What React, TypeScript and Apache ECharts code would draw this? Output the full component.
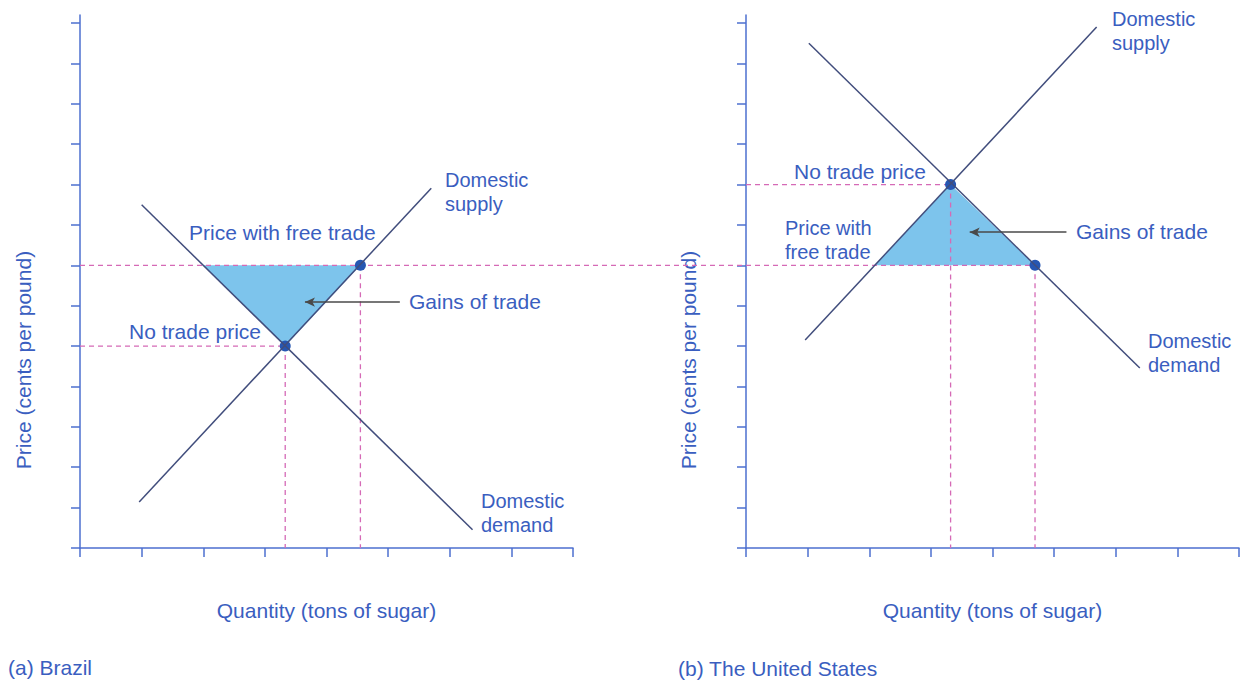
import React, { useEffect, useRef } from "react";
import * as echarts from "echarts";

// ---- data (axis units) ----
const xTicks = [0, 1, 2, 3, 4, 5, 6, 7, 8];
const yTicks = [0, 1, 2, 3, 4, 5, 6, 7, 8, 9, 10, 11, 12, 13];
const freeTradePrice = 7;

// (a) Brazil
const brazilDemand = [[1.0, 8.5], [6.37, 0.45]];
const brazilSupply = [[0.96, 1.14], [5.7, 8.91]];
const brazilNoTrade = [3.33, 5];
const brazilFreeDemand = [2.0, freeTradePrice];
const brazilFreeSupply = [4.55, freeTradePrice];
const brazilArrow = [[5.19, 6.09], [3.65, 6.09]];
const worldPriceLineEnd = 10.8; // where the free-trade price line reaches panel (b)

// (b) The United States
const usDemand = [[1.02, 12.5], [6.39, 4.46]];
const usSupply = [[0.96, 5.15], [5.69, 12.9]];
const usNoTrade = [3.32, 9];
const usFreeSupply = [2.09, freeTradePrice];
const usFreeDemand = [4.69, freeTradePrice];
const usArrow = [[5.2, 7.82], [3.63, 7.82]];

// ---- styles ----
const AXIS = "#4d6fcf";
const TEXT = "#3a5ec0";
const CURVE = "#414d7c";
const DASH = "#d56ab6";
const FILL = "#7dc4ec";
const DOT = "#2656b2";
const ARROW = "#4a4a4a";
const FONT = "'Liberation Sans', Arial, Helvetica, sans-serif";

function txt(text: string, x: number, y: number, align = "left", extra: any = {}) {
  const multi = text.indexOf("\n") >= 0;
  return {
    type: "text",
    x,
    y,
    silent: true,
    ...extra,
    style: {
      text,
      fill: TEXT,
      font: `${multi ? 20 : 21}px ${FONT}`,
      lineHeight: 23.5,
      align,
      verticalAlign: "middle",
    },
  };
}

function panelSeries(idx: number, demand: number[][], supply: number[][], noTrade: number[],
  freeB: number[], tri: number[][], arrow: number[][], hEnd: number) {
  const ax = { xAxisIndex: idx, yAxisIndex: idx };
  const dashed = (data: number[][]) => ({
    type: "custom", ...ax, silent: true, clip: false,
    data: [0],
    renderItem: (_p: any, api: any) => {
      const a = api.coord(data[0]);
      const b = api.coord(data[1]);
      return {
        type: "line",
        shape: { x1: a[0], y1: a[1], x2: b[0], y2: b[1] },
        style: { stroke: DASH, lineWidth: 1.3, lineDash: [5, 4], fill: "none" },
      };
    },
  });
  return [
    {
      type: "custom", ...ax, silent: true,
      data: [0],
      renderItem: (_p: any, api: any) => ({
        type: "polygon",
        shape: { points: tri.map((p) => api.coord(p)) },
        style: { fill: FILL, stroke: "none" },
      }),
    },
    dashed([[0, freeTradePrice], [hEnd, freeTradePrice]]),
    dashed([[0, noTrade[1]], noTrade]),
    dashed([noTrade, [noTrade[0], 0]]),
    dashed([[freeB[0], freeTradePrice], [freeB[0], 0]]),
    {
      type: "line", ...ax, data: demand, symbol: "none", silent: true,
      lineStyle: { color: CURVE, width: 1.5 },
    },
    {
      type: "line", ...ax, data: supply, symbol: "none", silent: true,
      lineStyle: { color: CURVE, width: 1.5 },
    },
    {
      type: "line", ...ax, data: [], silent: true,
      markLine: {
        silent: true,
        symbol: ["none", "arrow"],
        symbolSize: [7, 10],
        label: { show: false },
        lineStyle: { color: ARROW, width: 1.5, type: "solid" },
        data: [[{ coord: arrow[0] }, { coord: arrow[1] }]],
      },
    },
    {
      type: "scatter", ...ax, data: [noTrade, freeB], symbolSize: 11, silent: true,
      itemStyle: { color: DOT, opacity: 1 },
    },
  ];
}

export default function App() {
  const ref = useRef<HTMLDivElement>(null);
  useEffect(() => {
    if (!ref.current) return;
    const chart = echarts.init(ref.current, null, { renderer: "svg" });
    const xAxisBase = (gridIndex: number) => ({
      type: "value", gridIndex, min: 0, max: 8, interval: 1,
      axisLine: { show: true, onZero: false, lineStyle: { color: AXIS, width: 1.5 } },
      axisTick: { show: true, length: 9, lineStyle: { color: AXIS, width: 1.5 }, customValues: xTicks },
      axisLabel: { show: false },
      splitLine: { show: false },
      name: "Quantity (tons of sugar)",
      nameLocation: "middle",
      nameGap: 52,
      nameTextStyle: { color: TEXT, fontSize: 21, fontFamily: FONT },
    });
    const yAxisBase = (gridIndex: number) => ({
      type: "value", gridIndex, min: 0, max: 13.2,
      axisLine: { show: true, onZero: false, lineStyle: { color: AXIS, width: 1.5 } },
      axisTick: { show: true, length: 9, lineStyle: { color: AXIS, width: 1.5 }, customValues: yTicks },
      axisLabel: { show: false },
      splitLine: { show: false },
    });
    chart.setOption({
      animation: false,
      backgroundColor: "#ffffff",
      grid: [
        { left: 80, top: 15, width: 493, height: 533 },
        { left: 746, top: 15, width: 493, height: 533 },
      ],
      xAxis: [xAxisBase(0), xAxisBase(1)],
      yAxis: [yAxisBase(0), yAxisBase(1)],
      series: [
        ...panelSeries(0, brazilDemand, brazilSupply, brazilNoTrade, brazilFreeSupply,
          [brazilFreeDemand, brazilNoTrade, brazilFreeSupply], brazilArrow, worldPriceLineEnd),
        ...panelSeries(1, usDemand, usSupply, usNoTrade, usFreeDemand,
          [usFreeSupply, usNoTrade, usFreeDemand], usArrow, usFreeDemand[0]),
      ],
      graphic: [
        // panel (a)
        txt("Domestic\nsupply", 445, 192),
        txt("Price with free trade", 189, 232),
        txt("Gains of trade", 409, 301),
        txt("No trade price", 261, 331, "right"),
        txt("Domestic\ndemand", 481, 513),
        txt("Price (cents per pound)", 23, 360, "center", { rotation: Math.PI / 2 }),
        txt("(a) Brazil", 8, 667),
        // panel (b)
        txt("Domestic\nsupply", 1112, 31),
        txt("No trade price", 794, 171),
        txt("Price with\nfree trade", 785, 240),
        txt("Gains of trade", 1076, 231),
        txt("Domestic\ndemand", 1148, 353),
        txt("Price (cents per pound)", 688, 360, "center", { rotation: Math.PI / 2 }),
        txt("(b) The United States", 678, 668),
      ],
    });
    return () => chart.dispose();
  }, []);
  return (
    <div
      ref={ref}
      style={{ position: "absolute", left: 0, top: 0, width: 1243, height: 681, background: "#fff" }}
    />
  );
}
